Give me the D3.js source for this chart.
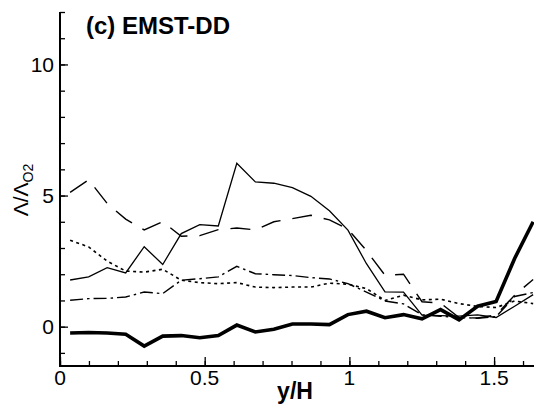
<!DOCTYPE html>
<html>
<head>
<meta charset="utf-8">
<script src="https://cdn.jsdelivr.net/npm/d3@7"></script>
<style>
  html, body { margin: 0; padding: 0; background: #fff; }
  svg { display: block; font-family: "Liberation Sans", Arial, sans-serif; }
</style>
</head>
<body>
<svg id="chart" width="534" height="407"></svg>
<script>
// y/H sample positions
const xValues = [0.035, 0.099, 0.163, 0.227, 0.291, 0.355, 0.419, 0.483, 0.547, 0.611,
                 0.675, 0.739, 0.803, 0.867, 0.931, 0.995, 1.059, 1.123, 1.187, 1.251,
                 1.315, 1.379, 1.443, 1.507, 1.571, 1.635];
// Series (Λ/Λ_O2)
const seriesThick = [-0.24, -0.22, -0.24, -0.29, -0.74, -0.36, -0.34, -0.42, -0.34, 0.06,
                     -0.2, -0.1, 0.1, 0.1, 0.08, 0.46, 0.59, 0.34, 0.46, 0.3,
                     0.65, 0.26, 0.78, 0.96, 2.6, 4.0];
const seriesSolid = [1.78, 1.9, 2.25, 2.05, 3.05, 2.37, 3.55, 3.89, 3.84, 6.23,
                     5.52, 5.47, 5.3, 4.97, 4.42, 3.68, 2.4, 1.33, 1.32, 0.44,
                     0.42, 0.4, 0.45, 0.35, 0.78, 1.22];
const seriesDashed = [5.12, 5.6, 4.7, 4.1, 3.69, 4.0, 3.45, 3.47, 3.7, 3.76,
                      3.69, 4.0, 4.12, 4.25, 4.07, 3.72, 2.9, 1.96, 2.0, 0.95,
                      0.9, 0.35, 0.33, 0.45, 1.2, 1.8];
const seriesDotted = [3.3, 3.04, 2.5, 2.12, 2.08, 2.19, 1.77, 1.68, 1.64, 1.68,
                      1.51, 1.49, 1.51, 1.51, 1.66, 1.62, 1.45, 1.0, 1.2, 1.02,
                      1.05, 0.88, 0.77, 0.73, 0.98, 0.88];
const seriesDashDot = [1.01, 1.07, 1.08, 1.13, 1.32, 1.26, 1.77, 1.83, 1.9, 2.3,
                       2.02, 1.98, 1.95, 1.87, 1.82, 1.64, 1.32, 0.98, 0.87, 0.45,
                       0.4, 0.35, 0.32, 0.38, 1.15, 1.3];

const xTicks = [0, 0.5, 1, 1.5];
const xTickLabels = ["0", "0.5", "1", "1.5"];
const yTicks = [0, 5, 10];
const yTickLabels = ["0", "5", "10"];
const titleText = "(c) EMST-DD";
const xLabelText = "y/H";

(function () {
const svg = d3.select("#chart");
const mLeft = 60, mRight = 534.6, mTop = 12, mBottom = 366;
const x = d3.scaleLinear().domain([0, 1.64]).range([mLeft, mRight]);
const y = d3.scaleLinear().domain([-1.5, 12]).range([mBottom, mTop]);

svg.append("defs").append("clipPath").attr("id", "clip")
  .append("rect").attr("x", mLeft).attr("y", mTop).attr("width", mRight - mLeft).attr("height", mBottom - mTop);

const g = svg.append("g").attr("clip-path", "url(#clip)");
const line = d3.line().x((d, i) => x(xValues[i])).y(d => y(d));

const series = [
  { data: seriesDotted, width: 1.6, dash: "3,3.5" },
  { data: seriesDashDot, width: 1.4, dash: "13,4,2.5,4" },
  { data: seriesDashed, width: 1.4, dash: "20,12" },
  { data: seriesSolid, width: 1.3, dash: null },
  { data: seriesThick, width: 3.6, dash: null }
];
series.forEach(s => {
  g.append("path").datum(s.data)
    .attr("d", line)
    .attr("fill", "none")
    .attr("stroke", "#000")
    .attr("stroke-width", s.width)
    .attr("stroke-linejoin", "miter")
    .attr("stroke-dasharray", s.dash);
});

// Axes
const xAxis = d3.axisTop(x).tickValues(d3.range(0, 1.641, 0.1)).tickSize(5).tickFormat("");
const xAxisMajor = d3.axisTop(x).tickValues(xTicks).tickSize(9).tickFormat("");
const yAxis = d3.axisRight(y).tickValues(d3.range(-1, 12.01, 1)).tickSize(5).tickFormat("");
const yAxisMajor = d3.axisRight(y).tickValues(yTicks).tickSize(8).tickFormat("");

[xAxis, xAxisMajor].forEach(a => {
  const ag = svg.append("g").attr("transform", `translate(0,${mBottom})`).call(a);
  ag.select(".domain").remove();
  ag.selectAll("line").attr("stroke", "#000").attr("stroke-width", 1.3);
});
[yAxis, yAxisMajor].forEach(a => {
  const ag = svg.append("g").attr("transform", `translate(${mLeft},0)`).call(a);
  ag.select(".domain").remove();
  ag.selectAll("line").attr("stroke", "#000").attr("stroke-width", 1.3);
});
svg.append("line").attr("x1", mLeft).attr("x2", mLeft).attr("y1", mTop).attr("y2", mBottom + 1)
  .attr("stroke", "#000").attr("stroke-width", 2);
svg.append("line").attr("x1", mLeft - 1).attr("x2", 534).attr("y1", mBottom).attr("y2", mBottom)
  .attr("stroke", "#000").attr("stroke-width", 2);

// Tick labels
svg.selectAll(".xtl").data(xTicks).enter().append("text")
  .attr("x", d => x(d)).attr("y", 385)
  .attr("text-anchor", "middle").attr("font-size", 21).text((d, i) => xTickLabels[i]);
svg.selectAll(".ytl").data(yTicks).enter().append("text")
  .attr("x", 54).attr("y", d => y(d)).attr("dy", "0.36em")
  .attr("text-anchor", "end").attr("font-size", 21).text((d, i) => yTickLabels[i]);

// Title
svg.append("text").attr("x", 86).attr("y", 34).attr("font-size", 24).attr("font-weight", "bold")
  .text(titleText);

// X label
svg.append("text").attr("x", 295).attr("y", 399).attr("text-anchor", "middle")
  .attr("font-size", 23).attr("font-weight", "bold").text(xLabelText);

// Y label
const yl = svg.append("text").attr("transform", "translate(28,190) rotate(-90)")
  .attr("text-anchor", "middle").attr("font-size", 21);
yl.append("tspan").text("Λ/Λ");
yl.append("tspan").attr("font-size", 14).attr("dy", 5).text("O2");
})();
</script>
</body>
</html>
